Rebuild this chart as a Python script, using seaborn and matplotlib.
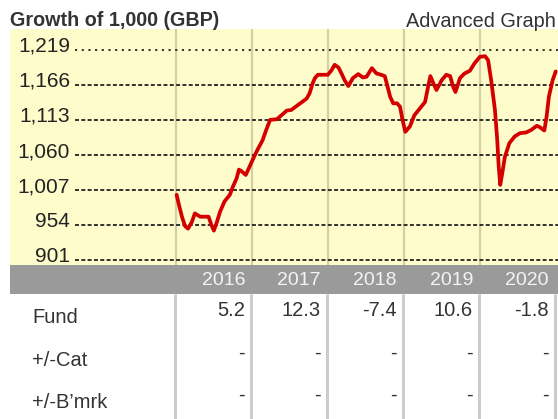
import seaborn as sns
import matplotlib.pyplot as plt
from matplotlib.transforms import blended_transform_factory, ScaledTranslation

# growth of 1,000 - decimal year / value pairs
fund_years = [2016.01, 2016.04, 2016.08, 2016.12, 2016.16, 2016.21, 2016.25, 2016.32, 2016.43, 2016.47,
              2016.50, 2016.54, 2016.58, 2016.64, 2016.71, 2016.75, 2016.80, 2016.83, 2016.86, 2016.92,
              2016.96, 2017.02, 2017.07, 2017.14, 2017.19, 2017.24, 2017.33, 2017.39, 2017.46, 2017.52,
              2017.59, 2017.65, 2017.72, 2017.76, 2017.80, 2017.83, 2017.87, 2018.00, 2018.05, 2018.09,
              2018.14, 2018.18, 2018.22, 2018.27, 2018.33, 2018.40, 2018.46, 2018.51, 2018.58, 2018.64,
              2018.70, 2018.75, 2018.78, 2018.82, 2018.86, 2018.91, 2018.95, 2018.98, 2019.02, 2019.08,
              2019.14, 2019.21, 2019.28, 2019.32, 2019.35, 2019.39, 2019.43, 2019.50, 2019.56, 2019.61,
              2019.65, 2019.68, 2019.74, 2019.80, 2019.87, 2019.93, 2020.00, 2020.07, 2020.11, 2020.15,
              2020.20, 2020.23, 2020.25, 2020.27, 2020.30, 2020.33, 2020.39, 2020.46, 2020.53, 2020.61,
              2020.68, 2020.75, 2020.79, 2020.85, 2020.88, 2020.91, 2020.96, 2021.00]
fund_values = [1000, 985, 967, 953, 949, 959, 972, 967, 967, 954,
               946, 959, 974, 990, 1000, 1012, 1025, 1038, 1036, 1030,
               1040, 1055, 1067, 1082, 1098, 1113, 1114, 1120, 1127, 1128,
               1134, 1139, 1145, 1153, 1168, 1176, 1181, 1181, 1188, 1196,
               1192, 1183, 1173, 1164, 1176, 1182, 1177, 1178, 1191, 1183,
               1181, 1179, 1166, 1148, 1138, 1138, 1133, 1115, 1095, 1103,
               1120, 1130, 1140, 1163, 1179, 1168, 1158, 1173, 1181, 1179,
               1163, 1155, 1176, 1183, 1187, 1198, 1208, 1209, 1203, 1173,
               1128, 1083, 1042, 1015, 1035, 1057, 1078, 1088, 1093, 1094,
               1098, 1104, 1102, 1097, 1118, 1148, 1173, 1186]

y_ticks = [901, 954, 1007, 1060, 1113, 1166, 1219]
y_tick_labels = ['901', '954', '1,007', '1,060', '1,113', '1,166', '1,219']

years = [2016, 2017, 2018, 2019, 2020]
row_labels = ['Fund', '+/-Cat', "+/-B\u2019mrk"]
fund_returns = ['5.2', '12.3', '-7.4', '10.6', '-1.8']
cat_returns = ['-', '-', '-', '-', '-']
bmrk_returns = ['-', '-', '-', '-', '-']

W, H = 558, 419


def px_rect(left, top, right, bottom):
    return [left / W, 1 - bottom / H, (right - left) / W, (bottom - top) / H]


sns.set_style("white")
plt.rcParams['font.family'] = ['Liberation Sans', 'DejaVu Sans']

fig = plt.figure(figsize=(W / 100, H / 100), dpi=100)
xlim = (2013.81, 2021.03)

# main chart area
ax = fig.add_axes(px_rect(9.5, 29, 558, 265))
ax.set_facecolor('#fffccc')
ax.set_xlim(*xlim)
ax.set_ylim(894.2, 1250)
ax.vlines(years, 894.2, 1250, color='#d5cfa6', linewidth=1.6, zorder=1)
grid_start = 2014.67
for v in y_ticks:
    style = (0, (1.2, 2.5)) if v == y_ticks[-1] else (0, (2.2, 1.3))
    ax.hlines(v, grid_start, xlim[1], color='#222222', linewidth=1.3, linestyle=style, zorder=2)
sns.lineplot(x=fund_years, y=fund_values, ax=ax, color='#d40000', linewidth=2.7, zorder=3)
ax.set_yticks(y_ticks)
ax.set_yticklabels(y_tick_labels)
ax.set_xticks([])
ax.tick_params(axis='y', length=0, pad=-43.6, labelsize=15, labelcolor='#222222')
# labels sit just above their dotted line
lift = ScaledTranslation(0, 5.5 / 100, fig.dpi_scale_trans)
for lab in ax.get_yticklabels():
    lab.set_transform(lab.get_transform() + lift)
ax.set_xlabel('')
ax.set_ylabel('')
for s in ax.spines.values():
    s.set_visible(False)

# grey year band
band = fig.add_axes(px_rect(9.5, 265, 558, 294))
band.set_facecolor('#9a9a9a')
band.set_xlim(*xlim)
band.set_ylim(0, 1)
band.set_xticks([])
band.set_yticks([])
for s in band.spines.values():
    s.set_visible(False)
for yr in years:
    band.text(yr + 0.91, 0.45, str(yr), ha='right', va='center', fontsize=14, color='#f4f4f4')

# returns table
tab = fig.add_axes(px_rect(9.5, 294, 558, 419))
tab.set_xlim(*xlim)
tab.set_ylim(419, 294)
tab.axis('off')
tab.vlines([yr - 0.015 for yr in years + [2021]], 294, 419, color='#cccccc', linewidth=2.2)
label_x = blended_transform_factory(fig.transFigure, tab.transData)
for i, (lab, vals) in enumerate(zip(row_labels, [fund_returns, cat_returns, bmrk_returns])):
    base = 323 + 42.5 * i
    tab.text(32 / W, base, lab, transform=label_x, ha='left', va='baseline', fontsize=14.5, color='#333333')
    for yr, val in zip(years, vals):
        tab.text(yr + 0.91, base - 7, val, ha='right', va='baseline', fontsize=14.5, color='#333333')

fig.text(10 / W, 1 - 26 / H, 'Growth of 1,000 (GBP)', fontsize=14.2, fontweight='bold', color='#333333',
         ha='left', va='baseline')
fig.text(556 / W, 1 - 27 / H, 'Advanced Graph', fontsize=14.3, color='#333333', ha='right', va='baseline')

fig.savefig('out.png', dpi=100)
plt.close()
